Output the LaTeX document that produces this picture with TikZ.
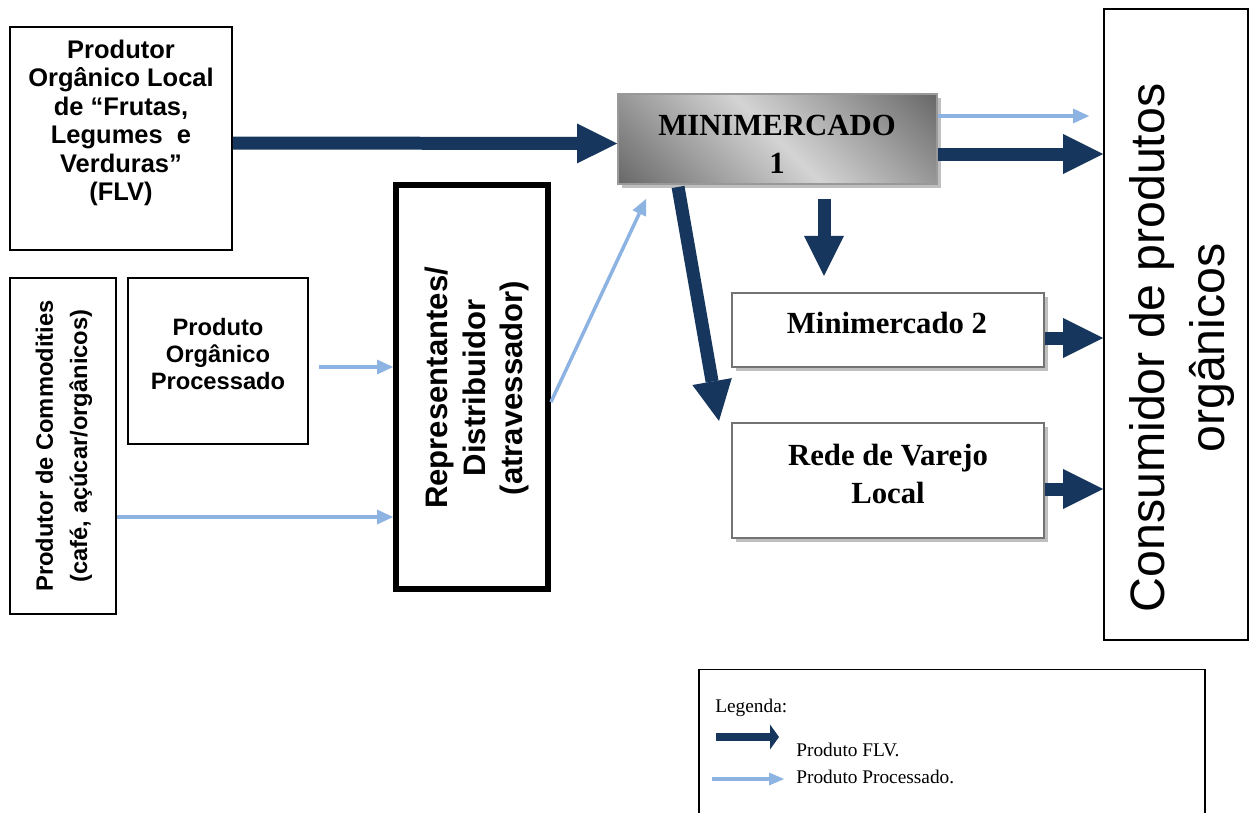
\documentclass[tikz,border=0pt]{standalone}
\usepackage{fontspec}
\setmainfont{Liberation Serif}
\setsansfont{Liberation Sans}
\usetikzlibrary{arrows.meta,calc,shadows}

\definecolor{flvblue}{RGB}{23,54,93}
\definecolor{procblue}{RGB}{141,179,226}
\definecolor{shdark}{RGB}{105,105,105}
\definecolor{shlight}{RGB}{212,212,212}
\pgfdeclarehorizontalshading{minishade}{100bp}{color(0bp)=(shdark); color(15bp)=(shdark); color(50bp)=(shlight); color(85bp)=(shdark); color(100bp)=(shdark)}

\tikzset{
  plainbox/.style={draw=black, line width=1.1pt, fill=white, inner sep=0pt},
  heavybox/.style={draw=black, line width=3.4pt, fill=white, inner sep=0pt},
  marketbox/.style={draw=black!55, line width=1.2pt, fill=white, inner sep=0pt,
    drop shadow={shadow xshift=0.08cm, shadow yshift=-0.08cm, fill=black!25, opacity=1}},
  gradbox/.style={draw=black!40, line width=1.1pt, shade, shading=minishade, shading angle=45, inner sep=0pt,
    drop shadow={shadow xshift=0.08cm, shadow yshift=-0.08cm, fill=black!25, opacity=1}},
  flvarrow/.style={draw=flvblue, line width=0.26cm, -{Triangle[length=0.8cm, width=0.8cm, line width=0pt]}},
  procarrow/.style={draw=procblue, line width=0.07cm, -{Triangle[length=0.32cm, width=0.3cm, line width=0pt]}},
}

\begin{document}
\begin{tikzpicture}[x=0.02cm, y=-0.02cm]
\useasboundingbox (0,0) rectangle (1251,812);
\fill[white] (0,0) rectangle (1251,812);

% boxes
\node[plainbox, minimum width=4.44cm, minimum height=4.46cm] (flv) at (121,138.5) {};
\node[plainbox, minimum width=2.12cm, minimum height=6.72cm] (comm) at (63,446) {};
\node[plainbox, minimum width=3.6cm, minimum height=3.32cm] (proc) at (218,361) {};
\node[heavybox, minimum width=3.04cm, minimum height=8.08cm] (rep) at (472,387) {};
\node[gradbox, minimum width=6.38cm, minimum height=1.8cm] (m1) at (777.5,139) {};
\node[marketbox, minimum width=6.24cm, minimum height=1.48cm] (m2) at (888,330) {};
\node[marketbox, minimum width=6.24cm, minimum height=2.3cm] (rede) at (888,480.5) {};
\node[plainbox, minimum width=2.88cm, minimum height=12.62cm] (cons) at (1176,324.5) {};
\node[draw=black, line width=0.8pt, inner sep=0pt, minimum width=10.12cm, minimum height=3.3cm] (legend) at (952,752) {};

% box texts
\node[align=center, inner sep=0pt, font=\sffamily\bfseries\fontsize{14.5pt}{16.2pt}\selectfont] (flvtxt) at (121,123)
  {Produtor\\Orgânico Local\\de “Frutas,\\Legumes\ \ e\\Verduras”\\(FLV)};
\node[align=center, inner sep=0pt, font=\sffamily\bfseries\fontsize{13.5pt}{15.6pt}\selectfont] (proctxt) at (218,354)
  {Produto\\Orgânico\\Processado};
\node[align=center, inner sep=0pt, rotate=90, font=\sffamily\bfseries\fontsize{13.5pt}{19.5pt}\selectfont] (commtxt) at (64,446)
  {Produtor de Commodities\\(café, açúcar/orgânicos)};
\node[align=center, inner sep=0pt, rotate=90, font=\sffamily\bfseries\fontsize{17.7pt}{21.5pt}\selectfont] (reptxt) at (477,388)
  {Representantes/\\Distribuidor\\(atravessador)};
\node[align=center, inner sep=0pt, font=\bfseries\fontsize{17.5pt}{21.5pt}\selectfont] (m1txt) at (777,144)
  {MINIMERCADO\\1};
\node[align=center, inner sep=0pt, font=\bfseries\fontsize{17.5pt}{21pt}\selectfont] (m2txt) at (887,323)
  {Minimercado 2};
\node[align=center, inner sep=0pt, font=\bfseries\fontsize{17.5pt}{21.5pt}\selectfont] (redetxt) at (888,474)
  {Rede de Varejo\\Local};
\node[align=center, inner sep=0pt, rotate=90, font=\sffamily\fontsize{27.5pt}{34pt}\selectfont] (constxt) at (1182,348)
  {Consumidor de produtos\\orgânicos};

% flows of fruit and vegetable produce
\draw[flvarrow] ($(flv.east)+(0,4.5)$) -- ($(m1.west)+(0,4.5)$);
\coordinate (m1out) at ($(m1.east)+(0,15)$);
\draw[flvarrow] (m1out) -- (m1out -| cons.west);
\coordinate (m1down) at ($(m1.south)+(46.5,14)$);
\draw[flvarrow] (m1down) -- ($(m1down |- m2.north)+(0,-16)$);
\draw[flvarrow] ($(m1.south west)+(61,2)$) -- ($(rede.north west)+(-12,-1)$);
\coordinate (m2out) at ($(m2.east)+(0,8)$);
\draw[flvarrow] (m2out) -- (m2out -| cons.west);
\coordinate (redeout) at ($(rede.east)+(0,8.5)$);
\draw[flvarrow] (redeout) -- (redeout -| cons.west);

% flows of processed products
\coordinate (m1proc) at ($(m1.east)+(0,-23)$);
\draw[procarrow] (m1proc) -- ($(m1proc -| cons.west)+(-14,0)$);
\draw[procarrow] ($(rep.east)+(0,15)$) -- ($(m1.south west)+(29,14)$);
\coordinate (procout) at ($(proc.east)+(10,6)$);
\draw[procarrow] (procout) -- (procout -| rep.west);
\coordinate (commout) at ($(comm.east)+(0,71)$);
\draw[procarrow] (commout) -- (commout -| rep.west);

% legend
\node[anchor=base west, inner sep=0pt, font=\fontsize{11pt}{13pt}\selectfont] (lgtitle) at (715,712) {Legenda:};
\node[anchor=base west, inner sep=0pt, font=\fontsize{11pt}{13pt}\selectfont] (lgflv) at (796,756) {Produto FLV.};
\node[anchor=base west, inner sep=0pt, font=\fontsize{11pt}{13pt}\selectfont] (lgproc) at (796,783) {Produto Processado.};
\coordinate (lgflvA) at (716,737);
\coordinate (lgflvB) at (779,737);
\draw[draw=flvblue, line width=0.16cm, -{Triangle[length=0.18cm, width=0.5cm, line width=0pt]}] (lgflvA) -- (lgflvB);
\coordinate (lgprocA) at (712,779);
\coordinate (lgprocB) at (784,779);
\draw[draw=procblue, line width=0.08cm, -{Triangle[length=0.3cm, width=0.26cm, line width=0pt]}] (lgprocA) -- (lgprocB);
\end{tikzpicture}
\end{document}
